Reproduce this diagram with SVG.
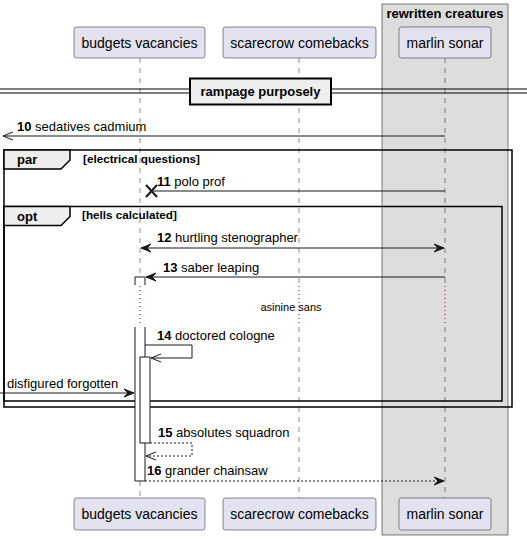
<svg xmlns="http://www.w3.org/2000/svg" width="527" height="539" viewBox="0 0 527 539">
<style>
text{font-family:"Liberation Sans",Arial,sans-serif;fill:#000}
.pn{font-size:14px;text-anchor:middle}
.b{font-weight:bold}
.m{font-size:13px}
.c{font-size:11.7px;font-weight:bold}
.pbox{fill:#E2E2F0;stroke:#181818;stroke-width:0.5}
.life{stroke:#181818;stroke-width:0.5;stroke-dasharray:5,5;fill:none}
.delay{stroke:#A80036;stroke-width:1;stroke-dasharray:1,3;fill:none}
.msg{stroke:#181818;stroke-width:1;fill:none}
.dash{stroke-dasharray:2,2}
.head{fill:#181818;stroke:#181818;stroke-width:1}
.frame{fill:none;stroke:#000;stroke-width:1.5}
.tab{fill:#EEEEEE;stroke:#000;stroke-width:1.5}
.act{fill:#FFFFFF;stroke:#181818;stroke-width:1}
</style>
<rect width="527" height="539" fill="#FFFFFF"/>
<g id="group-rewritten-creatures">
<rect x="382" y="4" width="126" height="531" fill="#DDDDDD" stroke="#000" stroke-width="0.5"/>
<text x="445" y="18" class="b m" text-anchor="middle">rewritten creatures</text>
</g>
<g id="lifelines">
<line class="life" x1="140" y1="58" x2="140" y2="277"/>
<line class="life" x1="140" y1="481" x2="140" y2="498"/>
<line class="life" x1="299" y1="58" x2="299" y2="285"/>
<line class="life" x1="299" y1="327" x2="299" y2="498"/>
<line class="life" x1="445" y1="58" x2="445" y2="285"/>
<line class="life" x1="445" y1="327" x2="445" y2="498"/>
<line class="delay" x1="299" y1="286" x2="299" y2="326"/>
<line class="delay" x1="445" y1="286" x2="445" y2="326"/>
</g>
<g id="divider">
<line x1="0" y1="89" x2="527" y2="89" stroke="#000" stroke-width="1"/>
<line x1="0" y1="93" x2="527" y2="93" stroke="#000" stroke-width="1"/>
<rect x="190" y="78.5" width="141" height="26" fill="#EEEEEE" stroke="#000" stroke-width="2"/>
<text x="260.5" y="96" class="b m" text-anchor="middle">rampage purposely</text>
</g>
<g id="frame-par">
<rect class="frame" x="4" y="150" width="508" height="257"/>
<path class="tab" d="M4,150 H70 V160 L61,169 H4 Z"/>
<text x="17" y="164" class="b m">par</text>
<text x="83" y="163" class="c">[electrical questions]</text>
</g>
<g id="frame-opt">
<rect class="frame" x="4" y="206.5" width="498" height="194.5"/>
<path class="tab" d="M4,206.5 H70 V216.5 L61,225.5 H4 Z"/>
<text x="17" y="221" class="b m">opt</text>
<text x="82" y="219" class="c">[hells calculated]</text>
</g>
<g id="activation-budgets">
<rect x="135" y="277" width="10" height="204" fill="#FFFFFF"/>
<line class="delay" x1="140" y1="286" x2="140" y2="326"/>
<path class="msg" d="M135,285 V277 H145 V285 M135,327 V481 H145 V327"/>
<rect class="act" x="140" y="357" width="10" height="86"/>
</g>
<g id="connectors">
<line class="msg" x1="445" y1="136" x2="3" y2="136"/>
<path class="msg" d="M13,132 L3,136 L13,140"/>
<text x="17" y="131" class="m"><tspan class="b">10</tspan> sedatives cadmium</text>
<line class="msg" x1="445" y1="191" x2="152" y2="191"/>
<path d="M146,185 L157,197 M157,185 L146,197" stroke="#181818" stroke-width="2" fill="none"/>
<text x="157" y="186" class="m"><tspan class="b">11</tspan> polo prof</text>
<line class="msg" x1="141" y1="248" x2="444" y2="248"/>
<polygon class="head" points="141,248 151,244 147,248 151,252"/>
<polygon class="head" points="444,248 434,244 438,248 434,252"/>
<text x="157" y="242" class="m"><tspan class="b">12</tspan> hurtling stenographer</text>
<line class="msg" x1="445" y1="277" x2="146" y2="277"/>
<polygon class="head" points="146,277 156,273 152,277 156,281"/>
<text x="163" y="272" class="m"><tspan class="b">13</tspan> saber leaping</text>
<text x="291" y="311" font-size="11" text-anchor="middle">asinine sans</text>
<path class="msg" d="M145,345 H192 V358 H151"/>
<path class="msg" d="M161,354 L151,358 L161,362"/>
<text x="157" y="340" class="m"><tspan class="b">14</tspan> doctored cologne</text>
<line class="msg" x1="0" y1="393" x2="134" y2="393"/>
<polygon class="head" points="134,393 124,389 128,393 124,397"/>
<text x="7" y="388" class="m">disfigured forgotten</text>
<path class="msg dash" d="M150,443 H192 V456 H146"/>
<path class="msg" d="M156,452 L146,456 L156,460"/>
<text x="158" y="437" class="m"><tspan class="b">15</tspan> absolutes squadron</text>
<line class="msg dash" x1="145" y1="481" x2="444" y2="481"/>
<polygon class="head" points="444,481 434,477 438,481 434,485"/>
<text x="147" y="475" class="m"><tspan class="b">16</tspan> grander chainsaw</text>
</g>
<g id="participant-budgets-vacancies">
<rect class="pbox" x="74" y="27" width="131" height="31" rx="2.5"/>
<text x="139.5" y="47.5" class="pn">budgets vacancies</text>
<rect class="pbox" x="74" y="498" width="131" height="32" rx="2.5"/>
<text x="139.5" y="519" class="pn">budgets vacancies</text>
</g>
<g id="participant-scarecrow-comebacks">
<rect class="pbox" x="223" y="27" width="153" height="31" rx="2.5"/>
<text x="299.5" y="47.5" class="pn">scarecrow comebacks</text>
<rect class="pbox" x="223" y="498" width="153" height="32" rx="2.5"/>
<text x="299.5" y="519" class="pn">scarecrow comebacks</text>
</g>
<g id="participant-marlin-sonar">
<rect class="pbox" x="399" y="27" width="92" height="31" rx="2.5"/>
<text x="445" y="47.5" class="pn">marlin sonar</text>
<rect class="pbox" x="399" y="498" width="92" height="32" rx="2.5"/>
<text x="445" y="519" class="pn">marlin sonar</text>
</g>
</svg>
